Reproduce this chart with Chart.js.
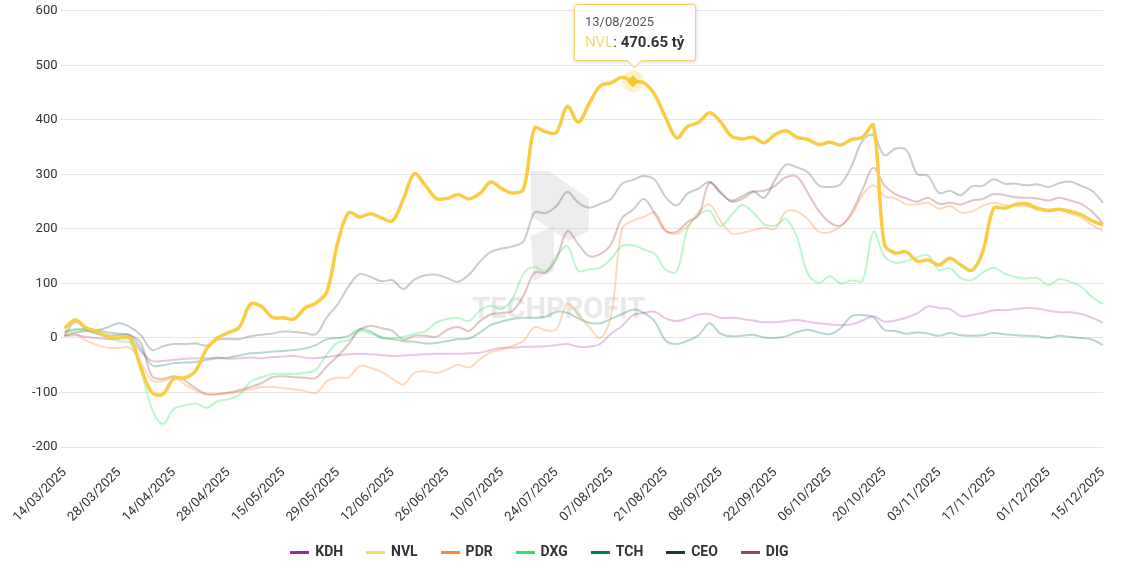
<!DOCTYPE html>
<html>
<head>
<meta charset="utf-8">
<script src="https://cdn.jsdelivr.net/npm/chart.js@4"></script>
<style>
  html, body { margin: 0; padding: 0; background: #fff; }
  #wrap { position: relative; width: 1124px; height: 575px; }
  #tip {
    position: absolute; display: none; background: #fff;
    border: 1px solid #f2d36b; border-radius: 3px;
    padding: 9px 11px 9px 10px; font-family: Roboto, sans-serif;
    box-shadow: 0 1px 4px rgba(0,0,0,0.18); white-space: nowrap; pointer-events: none;
  }
  #tip .t { font-size: 13px; color: #555; margin-bottom: 4px; }
  #tip .b { font-size: 15px; color: #333; }
  #tip .b b { font-weight: 700; }
  #tip:after {
    content: ''; position: absolute; left: 50%; bottom: -6px; width: 10px; height: 10px;
    margin-left: -6px; background: #fff; border-right: 1px solid #f2d36b; border-bottom: 1px solid #f2d36b;
    transform: rotate(45deg);
  }
</style>
</head>
<body>
<div id="wrap">
  <canvas id="chart" width="1124" height="575"></canvas>
  <div id="tip"></div>
</div>
<script>
// every other trading day, 14/03/2025 -> 15/12/2025
var dates = ['14/03/2025','18/03/2025','20/03/2025','24/03/2025','26/03/2025','28/03/2025','01/04/2025','03/04/2025','08/04/2025','10/04/2025',
  '14/04/2025','16/04/2025','18/04/2025','22/04/2025','24/04/2025','28/04/2025','05/05/2025','07/05/2025','09/05/2025','13/05/2025',
  '15/05/2025','19/05/2025','21/05/2025','23/05/2025','27/05/2025','29/05/2025','02/06/2025','04/06/2025','06/06/2025','10/06/2025',
  '12/06/2025','16/06/2025','18/06/2025','20/06/2025','24/06/2025','26/06/2025','30/06/2025','02/07/2025','04/07/2025','08/07/2025',
  '10/07/2025','14/07/2025','16/07/2025','18/07/2025','22/07/2025','24/07/2025','28/07/2025','30/07/2025','01/08/2025','05/08/2025',
  '07/08/2025','11/08/2025','13/08/2025','15/08/2025','19/08/2025','21/08/2025','25/08/2025','27/08/2025','29/08/2025','04/09/2025',
  '08/09/2025','10/09/2025','12/09/2025','16/09/2025','18/09/2025','22/09/2025','24/09/2025','26/09/2025','30/09/2025','02/10/2025',
  '06/10/2025','08/10/2025','10/10/2025','14/10/2025','16/10/2025','20/10/2025','22/10/2025','24/10/2025','28/10/2025','30/10/2025',
  '03/11/2025','05/11/2025','07/11/2025','11/11/2025','13/11/2025','17/11/2025','19/11/2025','21/11/2025','25/11/2025','27/11/2025',
  '01/12/2025','03/12/2025','05/12/2025','09/12/2025','11/12/2025','15/12/2025'];

var names = ['KDH', 'NVL', 'PDR', 'DXG', 'TCH', 'CEO', 'DIG'];

var kdh = [3,5,2,0,-2,0,-3,-25,-42,-42,-40,-38,-37,-37,-36,-38,-37,-36,-37,-35,-34,-33,-36,-37,-35,-32,-30,-29,-30,-31,
  -33,-32,-31,-30,-29,-29,-29,-28,-27,-22,-18,-18,-16,-16,-15,-13,-11,-16,-16,-11,8,22,42,46,48,36,31,36,43,44,
  37,37,35,32,29,29,31,33,30,27,25,24,25,32,40,30,32,37,45,58,55,53,40,42,46,51,51,53,55,54,50,47,47,44,37,28];
var nvl = [18,33,18,12,2,0,0,-55,-100,-103,-74,-73,-60,-20,0,10,20,62,58,38,37,35,55,64,85,175,230,222,228,220,
  215,255,301,280,256,256,263,255,265,286,274,266,274,385,378,377,425,396,430,462,468,478,470.65,468,446,404,367,388,395,413,
  397,370,365,368,358,373,380,368,364,355,359,354,364,368,390,172,156,158,141,143,134,146,134,124,158,238,238,245,246,238,
  234,236,232,226,215,207];
var pdr = [5,8,-5,-13,-18,-18,-18,-45,-78,-79,-72,-85,-96,-103,-103,-102,-98,-94,-90,-90,-92,-94,-97,-101,-79,-73,-72,-51,-55,-62,
  -75,-85,-64,-61,-64,-58,-49,-54,-39,-26,-21,-14,-5,20,14,16,63,43,20,0,40,200,215,222,230,198,191,205,230,245,
  215,192,193,198,202,200,232,232,218,195,194,205,225,262,280,260,256,245,245,248,237,242,230,232,242,248,244,242,242,235,
  234,235,228,221,207,196];
var dxg = [13,16,15,8,0,-6,-9,-60,-130,-158,-130,-124,-120,-128,-116,-112,-104,-80,-72,-66,-66,-66,-64,-58,-30,-8,-4,13,8,2,
  -1,2,8,12,28,35,37,31,50,59,53,73,118,130,122,150,168,123,126,129,145,169,170,162,154,125,122,200,226,233,
  205,225,244,230,209,206,218,185,118,101,113,100,106,105,195,150,138,141,148,152,125,128,110,106,120,129,118,112,109,110,
  97,108,103,94,75,62];
var tch = [10,15,16,14,10,8,5,-20,-50,-50,-46,-45,-44,-40,-37,-36,-32,-28,-27,-25,-24,-22,-19,-13,-2,0,4,16,12,0,
  -2,-6,-7,-10,-9,-6,-2,-1,10,24,30,35,37,37,39,48,46,36,28,27,35,44,52,46,30,-5,-11,-5,5,27,
  8,3,4,6,1,0,3,11,15,10,7,18,40,42,38,15,13,8,10,8,4,9,5,4,5,9,7,5,4,3,0,4,2,0,-3,-13];
var ceo = [4,10,13,14,20,27,20,5,-22,-15,-11,-11,-10,-14,-3,-2,-2,3,6,8,12,11,9,7,38,62,95,117,112,104,
  106,90,107,115,116,110,103,116,140,158,164,168,178,230,229,242,268,248,239,246,255,283,290,297,290,258,243,265,274,286,
  266,252,260,269,257,290,318,313,304,280,277,282,315,362,372,335,347,345,301,297,266,270,262,278,279,291,283,283,280,282,
  277,284,287,279,270,248];
var dig = [5,30,15,8,5,5,5,-10,-70,-75,-70,-78,-92,-103,-103,-100,-96,-90,-83,-72,-70,-72,-73,-73,-52,-33,-11,15,22,18,
  13,-3,4,4,2,15,20,13,31,43,46,50,78,120,120,145,196,172,150,154,172,220,235,255,228,196,195,213,225,285,
  268,250,255,268,270,279,295,296,266,233,212,206,230,272,312,280,264,256,250,257,246,248,245,252,255,264,262,258,257,256,
  252,257,252,246,232,210];

var legendColors = ['#a3239f', '#efdc6f', '#ff8a2e', '#2fe463', '#0c7a56', '#1f3b20', '#9d4848'];
var lineColors = ['rgba(163,35,159,0.26)', '#f8cd45', 'rgba(255,138,46,0.32)', 'rgba(47,228,99,0.32)',
  'rgba(12,122,86,0.3)', 'rgba(31,59,32,0.25)', 'rgba(157,72,72,0.32)'];
var series = [kdh, nvl, pdr, dxg, tch, ceo, dig];
var focus = 1;        // NVL
var focusIndex = 52;  // 13/08/2025

// short line marker for the legend, a little wider than its box so the text sits close to it
function legendLine(color) {
  var c = document.createElement('canvas');
  c.width = 19; c.height = 3;
  var g = c.getContext('2d');
  g.fillStyle = color; g.fillRect(0, 0, 19, 3);
  return c;
}

var watermark = {
  id: 'watermark',
  beforeDatasetsDraw: function (chart) {
    var a = chart.chartArea, c = chart.ctx;
    var cx = a.left + (a.right - a.left) * 0.476;
    var cy = a.top + (a.bottom - a.top) * 0.688;
    c.save();
    c.fillStyle = 'rgba(200,200,200,0.33)';
    c.beginPath();
    c.moveTo(cx - 28, cy - 140); c.lineTo(cx - 10, cy - 140); c.lineTo(cx + 30, cy - 112);
    c.lineTo(cx + 30, cy - 80); c.lineTo(cx + 10, cy - 70); c.lineTo(cx - 28, cy - 95);
    c.closePath(); c.fill();
    c.beginPath();
    c.moveTo(cx - 28, cy - 75); c.lineTo(cx - 5, cy - 85); c.lineTo(cx - 5, cy - 40); c.lineTo(cx - 25, cy - 30);
    c.closePath(); c.fill();
    c.font = 'bold 29px Roboto';
    c.textAlign = 'center'; c.textBaseline = 'middle';
    c.fillStyle = 'rgba(200,200,200,0.4)';
    c.fillText('TECHPROFIT', cx, cy);
    c.restore();
  }
};

var marker = {
  id: 'marker',
  afterDatasetsDraw: function (chart) {
    var c = chart.ctx;
    chart.getActiveElements().forEach(function (e) {
      var p = e.element;
      c.save();
      c.fillStyle = 'rgba(248,205,69,0.28)';
      c.beginPath(); c.arc(p.x, p.y, 11, 0, Math.PI * 2); c.fill();
      c.fillStyle = '#f8c72e';
      c.beginPath();
      c.moveTo(p.x, p.y - 6); c.lineTo(p.x + 6, p.y); c.lineTo(p.x, p.y + 6); c.lineTo(p.x - 6, p.y);
      c.closePath(); c.fill();
      c.restore();
    });
  }
};

var ctx = document.getElementById('chart').getContext('2d');
var chart = new Chart(ctx, {
  type: 'line',
  data: {
    labels: dates,
    datasets: names.map(function (n, i) {
      return {
        label: n,
        data: series[i],
        borderColor: lineColors[i],
        backgroundColor: lineColors[i],
        borderWidth: i === focus ? 3.5 : 2,
        pointRadius: 0,
        pointHoverRadius: 0,
        tension: 0.35,
        order: i === focus ? -1 : i
      };
    })
  },
  options: {
    responsive: false,
    animation: false,
    layout: { padding: { left: 29, right: 21, top: 3, bottom: 6 } },
    interaction: { mode: 'nearest', intersect: false },
    scales: {
      x: {
        grid: { display: false },
        border: { display: false },
        ticks: {
          autoSkip: false, minRotation: 45, maxRotation: 45, padding: 10, color: '#333',
          font: { family: 'Roboto', size: 13 },
          callback: function (v, i) { return i % 5 === 0 ? dates[i] : null; }
        }
      },
      y: {
        min: -200, max: 600,
        border: { display: false },
        grid: { color: '#e6e6e6', tickLength: 4 },
        ticks: { stepSize: 100, padding: 3, color: '#333', font: { family: 'Roboto', size: 13 } }
      }
    },
    plugins: {
      legend: {
        position: 'bottom',
        labels: {
          usePointStyle: true, pointStyleWidth: 17, padding: 10,
          color: '#333', font: { family: 'Roboto', size: 14, weight: 'bold' },
          generateLabels: function () {
            return names.map(function (n, i) {
              // trailing spaces widen each item so the entries sit at an even pitch;
              // the longer tail on the last one pulls the row a little to the left
              var tail = i < names.length - 1 ? '    ' : '               ';
              return { text: n + tail, fillStyle: legendColors[i], strokeStyle: legendColors[i],
                lineWidth: 0, pointStyle: legendLine(legendColors[i]), hidden: false, datasetIndex: i, fontColor: '#333' };
            });
          }
        }
      },
      tooltip: {
        enabled: false,
        external: function (context) {
          var tt = context.tooltip, el = document.getElementById('tip');
          if (tt.opacity === 0 || !tt.dataPoints || !tt.dataPoints.length) { el.style.display = 'none'; return; }
          var dp = tt.dataPoints[0];
          el.innerHTML = '<div class="t">' + tt.title[0] + '</div><div class="b"><span style="color:' +
            legendColors[dp.datasetIndex] + '">' + dp.dataset.label + '</span>: <b>' +
            dp.parsed.y.toFixed(2) + ' tỷ</b></div>';
          el.style.display = 'block';
          el.style.left = (tt.caretX - el.offsetWidth / 2 + 2) + 'px';
          el.style.top = (tt.caretY - el.offsetHeight - 20) + 'px';
        }
      }
    }
  },
  plugins: [watermark, marker]
});

var pt = chart.getDatasetMeta(focus).data[focusIndex];
chart.setActiveElements([{ datasetIndex: focus, index: focusIndex }]);
chart.tooltip.setActiveElements([{ datasetIndex: focus, index: focusIndex }], { x: pt.x, y: pt.y });
chart.update();
</script>
</body>
</html>
